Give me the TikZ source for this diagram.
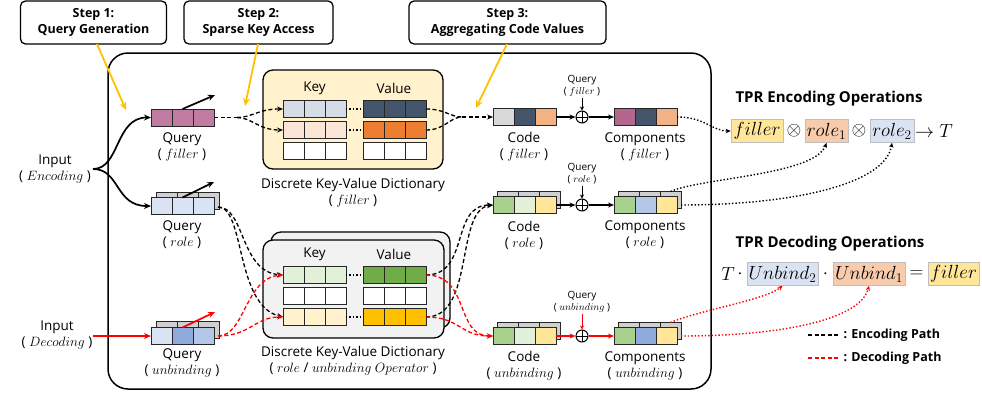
\documentclass[tikz,border=0pt]{standalone}
\usepackage{fix-cm}
\usepackage[no-math]{fontspec}
\setmainfont{Open Sans}
\usetikzlibrary{arrows.meta,calc}
\definecolor{ylw}{HTML}{FFC000}
\definecolor{qpink}{HTML}{C27BA0}
\definecolor{mauve}{HTML}{B4668C}
\definecolor{slate}{HTML}{44546A}
\definecolor{peach}{HTML}{F4B183}
\definecolor{lgray}{HTML}{D9D9D9}
\definecolor{kblue}{HTML}{D6DCE5}
\definecolor{kpeach}{HTML}{FBE5D6}
\definecolor{orng}{HTML}{ED7D31}
\definecolor{dictY}{HTML}{FFF2CC}
\definecolor{dictG}{HTML}{F2F2F2}
\definecolor{grn}{HTML}{A9D18E}
\definecolor{dgrn}{HTML}{70AD47}
\definecolor{lgrn}{HTML}{E2F0D9}
\definecolor{lylw}{HTML}{FFF2CC}
\definecolor{gold}{HTML}{FFC000}
\definecolor{ylwtwo}{HTML}{FFE699}
\definecolor{lblue}{HTML}{DAE3F3}
\definecolor{mblue}{HTML}{B4C7E7}
\definecolor{bluetwo}{HTML}{8FAADC}
\definecolor{shd}{HTML}{D0D0D0}
\definecolor{rpeach}{HTML}{F8CBAD}
\definecolor{redc}{HTML}{FF0000}
\newcommand{\tripcell}[6]{%
  \node[cell,fill=#4] (#1-1) at (#2+10.5,#3) {};
  \node[cell,fill=#5] (#1-2) at (#2+31.5,#3) {};
  \node[cell,fill=#6] (#1-3) at (#2+52.5,#3) {};}
\begin{document}
\begin{tikzpicture}[x=1pt,y=1pt,
  cell/.style={draw=black!85, line width=0.9pt, minimum width=21pt, minimum height=17pt, inner sep=0pt, outer sep=0pt},
  lab/.style={font=\fontsize{13.5}{16}\selectfont, align=center, inner sep=1pt},
  small/.style={font=\fontsize{10}{12}\selectfont, align=center, inner sep=1pt},
  stepbox/.style={draw, rounded corners=5pt, line width=1.3pt, minimum height=43pt, align=center, font=\bfseries\fontsize{12.5}{16}\selectfont, fill=white},
  ttl/.style={font=\bfseries\fontsize{15}{17}\selectfont},
  legend/.style={font=\bfseries\fontsize{12.5}{14}\selectfont},
  mfont/.style={font=\fontsize{19}{19}\selectfont, inner sep=0pt},
  mbox/.style={draw=black!25, line width=0.5pt, inner sep=1pt, minimum height=23pt, font=\fontsize{19}{19}\selectfont},
  enc/.style={line width=1.3pt, dash pattern=on 4pt off 2.5pt, -{Stealth[length=6pt,width=5pt]}},
  encl/.style={line width=1.3pt, dash pattern=on 4pt off 2.5pt},
  yarr/.style={draw=ylw, line width=1.8pt, -{Stealth[length=8pt,width=7pt]}},
  blk/.style={line width=1.7pt, -{Stealth[length=7pt,width=6pt]}},
  marr/.style={line width=1.3pt, -{Stealth[length=6pt,width=5pt]}},
  sarr/.style={line width=1pt, -{Stealth[length=4pt,width=4pt]}},
  dotarr/.style={line width=1.4pt, dash pattern=on 1.4pt off 2pt, -{Stealth[length=5pt,width=4.5pt]}},
  oplus/.style={circle, draw, line width=1pt, minimum size=12pt, inner sep=0pt,
    path picture={\draw[line width=1pt] (path picture bounding box.north) -- (path picture bounding box.south) (path picture bounding box.west) -- (path picture bounding box.east);}}
]
\useasboundingbox (0,0) rectangle (982,-400);

% steps
\node[stepbox, minimum width=146pt] (s1) at (93.5,-22.5) {Step 1:\\Query Generation};
\node[stepbox, minimum width=149pt] (s2) at (258.5,-22.5) {Step 2:\\Sparse Key Access};
\node[stepbox, minimum width=197pt] (s3) at (507.5,-22.5) {Step 3:\\Aggregating Code Values};

% main frame
\draw[line width=1.5pt, rounded corners=20pt] (108,-53) rectangle (711,-389);

% dictionaries
\draw[line width=1.3pt, rounded corners=10pt, fill=dictY] (263,-70) rectangle (443,-169);
\draw[line width=1.3pt, rounded corners=10pt, fill=dictG] (271,-232) rectangle (450,-328);
\draw[line width=1.3pt, rounded corners=10pt, fill=dictG] (263,-240) rectangle (444,-338);

\node[lab] (kfl) at (314.5,-88) {Key};
\node[lab] (vfl) at (394,-88) {Value};
\node[lab] (krl) at (314.5,-254) {Key};
\node[lab] (vrl) at (394,-254) {Value};

\tripcell{kf1}{283}{-109}{kblue}{kblue}{kblue}
\tripcell{kf2}{283}{-130}{kpeach}{kpeach}{kpeach}
\tripcell{kf3}{283}{-151}{white}{white}{white}
\tripcell{vf1}{363}{-109}{slate}{slate}{slate}
\tripcell{vf2}{363}{-130}{orng}{orng}{orng}
\tripcell{vf3}{363}{-151}{white}{white}{white}

\tripcell{kr1}{283}{-275}{lgrn}{lgrn}{lgrn}
\tripcell{kr2}{283}{-296}{white}{white}{white}
\tripcell{kr3}{283}{-317}{lylw}{lylw}{lylw}
\tripcell{vr1}{363}{-275}{dgrn}{dgrn}{dgrn}
\tripcell{vr2}{363}{-296}{white}{white}{white}
\tripcell{vr3}{363}{-317}{gold}{gold}{gold}

\draw[line width=1.4pt, dash pattern=on 1.4pt off 2pt] (kf1-3.east) -- (vf1-1.west);
\draw[line width=1.4pt, dash pattern=on 1.4pt off 2pt] (kf2-3.east) -- (vf2-1.west);
\draw[line width=1.4pt, dash pattern=on 1.4pt off 2pt] (kr1-3.east) -- (vr1-1.west);
\draw[line width=1.4pt, dash pattern=on 1.4pt off 2pt] (kr3-3.east) -- (vr3-1.west);

\node[lab] (dfl) at (353,-193) {Discrete Key-Value Dictionary\\( $filler$ )};
\node[lab] (drl) at (353,-361) {Discrete Key-Value Dictionary\\( $role$ / $unbinding$ $Operator$ )};

% queries
\tripcell{qf}{151}{-117.5}{qpink}{qpink}{qpink}
\tripcell{qrb}{156}{-201}{shd}{shd}{shd}
\tripcell{qr}{151}{-206}{lblue}{lblue}{lblue}
\tripcell{qub}{156}{-330}{shd}{shd}{shd}
\tripcell{qu}{151}{-336}{lblue}{bluetwo}{mblue}

\node[lab] (lqf) at (182,-147) {Query\\( $filler$ )};
\node[lab] (lqr) at (182,-235) {Query\\( $role$ )};
\node[lab] (lqu) at (182,-363) {Query\\( $unbinding$ )};

% codes and components
\tripcell{cf}{493}{-117}{lgray}{slate}{peach}
\tripcell{crb}{497}{-200}{shd}{shd}{shd}
\tripcell{cr}{493}{-205}{grn}{lgrn}{ylwtwo}
\tripcell{cub}{497}{-331}{shd}{shd}{shd}
\tripcell{cu}{493}{-336}{grn}{lgrn}{ylwtwo}

\tripcell{pf}{614}{-117}{mauve}{slate}{peach}
\tripcell{prb}{618}{-200}{shd}{shd}{shd}
\tripcell{pr}{614}{-205}{grn}{mblue}{ylwtwo}
\tripcell{pub}{618}{-331}{shd}{shd}{shd}
\tripcell{pu}{614}{-336}{grn}{bluetwo}{ylwtwo}

\node[oplus] (of) at (582,-117) {};
\node[oplus] (or) at (582,-205) {};
\node[oplus] (ou) at (582,-336) {};
\node[small] (sqf) at (582,-86) {Query\\( $filler$ )};
\node[small] (sqr) at (582,-174) {Query\\( $role$ )};
\node[small] (squ) at (582,-302) {Query\\( $unbinding$ )};
\draw[sarr] (sqf.south) -- (of.north);
\draw[sarr] (sqr.south) -- (or.north);
\draw[sarr, redc] (squ.south) -- (ou.north);

\draw[marr] (cf-3.east) -- (of.west);
\draw[marr] (of.east) -- (pf-1.west);
\draw[marr] (cr-3.east) -- (or.west);
\draw[marr] (or.east) -- (pr-1.west);
\draw[marr, redc] (cu-3.east) -- (ou.west);
\draw[marr, redc] (ou.east) -- (pu-1.west);

\node[lab] (lcf) at (524,-147) {Code\\( $filler$ )};
\node[lab] (lcr) at (524,-235) {Code\\( $role$ )};
\node[lab] (lcu) at (524,-366) {Code\\( $unbinding$ )};
\node[lab] (lpf) at (645,-147) {Components\\( $filler$ )};
\node[lab] (lpr) at (645,-235) {Components\\( $role$ )};
\node[lab] (lpu) at (645,-366) {Components\\( $unbinding$ )};

% inputs
\node[lab] (inE) at (55,-169) {Input\\( $Encoding$ )};
\node[lab] (inD) at (57,-335) {Input\\( $Decoding$ )};
\coordinate (fork) at (93,-169);
\draw[blk] (fork) .. controls (120,-169) and (115,-117.5) .. (qf-1.west);
\draw[blk] (fork) .. controls (120,-169) and (115,-206) .. (qr-1.west);
\coordinate (din) at (93,-336);
\draw[blk, redc] (din) -- (qu-1.west);

\coordinate (qfa) at (215,-95);
\coordinate (qra) at (214,-182);
\coordinate (qua) at (215,-312);
\draw[blk] (qf-2.north) -- (qfa);
\draw[blk] (qr-2.north) -- (qra);
\draw[blk, redc] (qu-2.north) -- (qua);

% filler dashed paths
\coordinate (fs) at (237,-117.5);
\draw[encl] (qf-3.east) -- (fs);
\draw[enc] (fs) .. controls (252,-117.5) and (258,-109) .. (kf1-1.west);
\draw[enc] (fs) .. controls (252,-117.5) and (258,-130) .. (kf2-1.west);
\coordinate (fm) at (462,-117);
\draw[encl] (vf1-3.east) .. controls (445,-109) and (450,-117) .. (fm);
\draw[encl] (vf2-3.east) .. controls (445,-130) and (450,-117) .. (fm);
\draw[enc] (fm) -- (cf-1.west);

% role / unbinding dashed paths
\coordinate (qre) at (218,-207);
\draw[enc] (qre) .. controls (245,-207) and (240,-272) .. (kr1-1.west);
\draw[enc] (qre) .. controls (245,-207) and (235,-305) .. (kr3-1.west);
\coordinate (que) at (218,-336);
\draw[enc, redc] (que) .. controls (245,-336) and (245,-278) .. (kr1-1.west);
\draw[enc, redc] (que) .. controls (250,-336) and (255,-317) .. (kr3-1.west);

\draw[enc] (vr1-3.east) .. controls (470,-275) and (450,-205) .. (cr-1.west);
\draw[enc] (vr3-3.east) .. controls (475,-317) and (455,-210) .. (cr-1.west);
\draw[enc, redc] (vr1-3.east) .. controls (470,-275) and (455,-336) .. (cu-1.west);
\draw[enc, redc] (vr3-3.east) .. controls (460,-317) and (460,-336) .. (cu-1.west);

% yellow step arrows
\coordinate (y1s) at (97,-44); \coordinate (y1e) at (126,-110);
\coordinate (y2s) at (258,-44); \coordinate (y2e) at (245,-106);
\coordinate (y3s) at (507,-44); \coordinate (y3e) at (476,-108);
\draw[yarr] (y1s) -- (y1e);
\draw[yarr] (y2s) -- (y2e);
\draw[yarr] (y3s) -- (y3e);

% TPR encoding
\node[ttl] (te) at (829,-99) {TPR Encoding Operations};
\node[mbox, fill=ylwtwo, minimum width=52pt] (tfil) at (757,-131) {$filler$};
\node[mfont] (ot1) at (794,-131) {$\otimes$};
\node[mbox, fill=rpeach, minimum width=43pt] (trole1) at (826.5,-131) {$role_1$};
\node[mfont] (ot2) at (859,-131) {$\otimes$};
\node[mbox, fill=lblue, minimum width=44pt] (trole2) at (892,-131) {$role_2$};
\node[mfont, anchor=west] (tT) at (915,-131) {$\rightarrow T$};

% TPR decoding
\node[ttl] (td) at (830,-244) {TPR Decoding Operations};
\node[mfont] (dT) at (728,-274) {$T$};
\node[mfont] (dc1) at (740,-274) {$\cdot$};
\node[mbox, fill=lblue, minimum width=71pt] (ub2) at (782.5,-274) {$Unbind_2$};
\node[mfont] (dc2) at (825.5,-274) {$\cdot$};
\node[mbox, fill=rpeach, minimum width=72pt] (ub1) at (869,-274) {$Unbind_1$};
\node[mfont] (deq) at (916.5,-274) {$=$};
\node[mbox, fill=ylwtwo, minimum width=51pt] (dfil) at (953.5,-274) {$filler$};

% dotted connectors to formulas
\coordinate (pre) at (681,-205);
\coordinate (pue) at (681,-336);
\draw[dotarr] (pf-3.east) .. controls (705,-117) and (712,-131) .. (tfil.west);
\draw[dotarr] (prb-3.north) .. controls (700,-178) and (815,-175) .. (trole1.south);
\draw[dotarr] (pre) .. controls (790,-205) and (885,-185) .. (trole2.south);
\draw[dotarr, redc] (pub-3.north) .. controls (700,-310) and (765,-300) .. (ub2.south);
\draw[dotarr, redc] (pue) .. controls (780,-336) and (860,-320) .. (ub1.south);

% legend
\coordinate (le1) at (808,-335); \coordinate (le2) at (838,-335);
\coordinate (lr1) at (808,-358); \coordinate (lr2) at (838,-358);
\draw[line width=1.6pt, dash pattern=on 4pt off 2.5pt] (le1) -- (le2);
\draw[line width=1.6pt, dash pattern=on 4pt off 2.5pt, redc] (lr1) -- (lr2);
\node[legend, anchor=west] (lt1) at (840,-335) {: Encoding Path};
\node[legend, anchor=west] (lt2) at (840,-358) {: Decoding Path};
\end{tikzpicture}
\end{document}
